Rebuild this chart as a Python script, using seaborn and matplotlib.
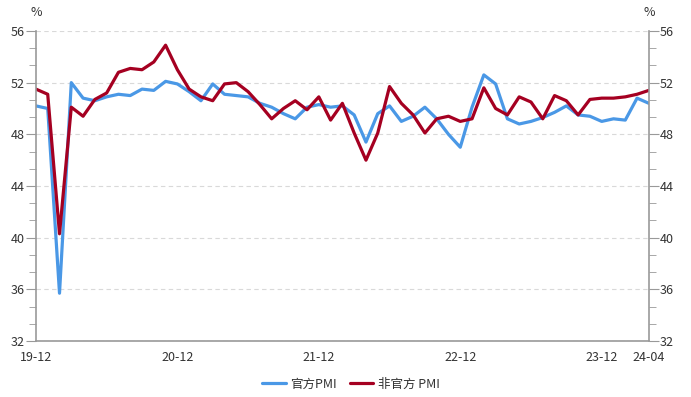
import matplotlib
matplotlib.use("Agg")
import matplotlib.pyplot as plt
import numpy as np
import pandas as pd
import seaborn as sns
from matplotlib.ticker import MultipleLocator

sns.set_style("white")
plt.rcParams["font.family"] = ["Noto Sans CJK SC", "DejaVu Sans"]

# Months 2019-12 .. 2024-04
months = pd.period_range("2019-12", "2024-04", freq="M")

official_pmi = [
    50.2, 50.0, 35.7, 52.0, 50.8, 50.6, 50.9, 51.1, 51.0, 51.5, 51.4, 52.1,
    51.9, 51.3, 50.6, 51.9, 51.1, 51.0, 50.9, 50.4, 50.1, 49.6, 49.2, 50.1,
    50.3, 50.1, 50.2, 49.5, 47.4, 49.6, 50.2, 49.0, 49.4, 50.1, 49.2, 48.0,
    47.0, 50.1, 52.6, 51.9, 49.2, 48.8, 49.0, 49.3, 49.7, 50.2, 49.5, 49.4,
    49.0, 49.2, 49.1, 50.8, 50.4,
]
caixin_pmi = [
    51.5, 51.1, 40.3, 50.1, 49.4, 50.7, 51.2, 52.8, 53.1, 53.0, 53.6, 54.9,
    53.0, 51.5, 50.9, 50.6, 51.9, 52.0, 51.3, 50.3, 49.2, 50.0, 50.6, 49.9,
    50.9, 49.1, 50.4, 48.1, 46.0, 48.1, 51.7, 50.4, 49.5, 48.1, 49.2, 49.4,
    49.0, 49.2, 51.6, 50.0, 49.5, 50.9, 50.5, 49.2, 51.0, 50.6, 49.5, 50.7,
    50.8, 50.8, 50.9, 51.1, 51.4,
]
series_names = ["官方PMI", "非官方 PMI"]
tick_labels = ["19-12", "20-12", "21-12", "22-12", "23-12", "24-04"]

idx = np.arange(len(months))
df = pd.DataFrame({"idx": idx, series_names[0]: official_pmi, series_names[1]: caixin_pmi})
long = df.melt(id_vars="idx", var_name="series", value_name="value")

palette = {series_names[0]: "#4A98E6", series_names[1]: "#A50021"}

fig = plt.figure(figsize=(6.91, 3.97), dpi=100)
ax = fig.add_axes([0.052, 0.141, 0.887, 0.781])

sns.lineplot(data=long, x="idx", y="value", hue="series", palette=palette,
             linewidth=2.3, ax=ax)

ax.set_xlim(0, len(months) - 1)
ax.set_ylim(32, 56)
ax.set_xlabel("")
ax.set_ylabel("")

# x ticks every 3 months, labels only at Decembers and last month
month_strs = [m.strftime("%y-%m") for m in months]
xt = list(idx[::3]) + [idx[-1]]
ax.set_xticks(xt)
ax.set_xticklabels([month_strs[i] if month_strs[i] in tick_labels else "" for i in xt])

ax.yaxis.set_major_locator(MultipleLocator(4))
ax.yaxis.set_minor_locator(MultipleLocator(4 / 3))
ax.grid(axis="y", which="major", color="#d9d9d9", linestyle=(0, (4, 3)), linewidth=0.8)

for s in ["top", "right"]:
    ax.spines[s].set_visible(False)
for s in ["left", "bottom"]:
    ax.spines[s].set_color("#999999")
    ax.spines[s].set_linewidth(1.2)

tick_kw = dict(color="#999999", labelsize=9, labelcolor="#333333")
ax.tick_params(axis="x", which="major", length=5, direction="out", pad=2, **tick_kw)
ax.tick_params(axis="y", which="major", length=7, direction="out", pad=1, **tick_kw)
ax.tick_params(axis="y", which="minor", length=5, direction="out", color="#999999")

ax2 = ax.twinx()
ax2.set_ylim(ax.get_ylim())
ax2.yaxis.set_major_locator(MultipleLocator(4))
ax2.yaxis.set_minor_locator(MultipleLocator(4 / 3))
for s in ["top", "left", "bottom"]:
    ax2.spines[s].set_visible(False)
ax2.spines["right"].set_color("#999999")
ax2.spines["right"].set_linewidth(1.2)
ax2.tick_params(axis="y", which="major", length=7, direction="out", pad=1, **tick_kw)
ax2.tick_params(axis="y", which="minor", length=5, direction="out", color="#999999")

fig.text(0.052, 0.968, "%", ha="center", va="center", fontsize=9, color="#333333")
fig.text(0.939, 0.968, "%", ha="center", va="center", fontsize=9, color="#333333")

handles, labels = ax.get_legend_handles_labels()
ax.legend_.remove()
fig.legend(handles, labels, loc="lower center", bbox_to_anchor=(0.508, -0.012), ncol=2,
           frameon=False, fontsize=9, handlelength=1.85, handletextpad=0.4,
           columnspacing=1.0, labelcolor="#333333")

fig.savefig("out.png", dpi=100)
